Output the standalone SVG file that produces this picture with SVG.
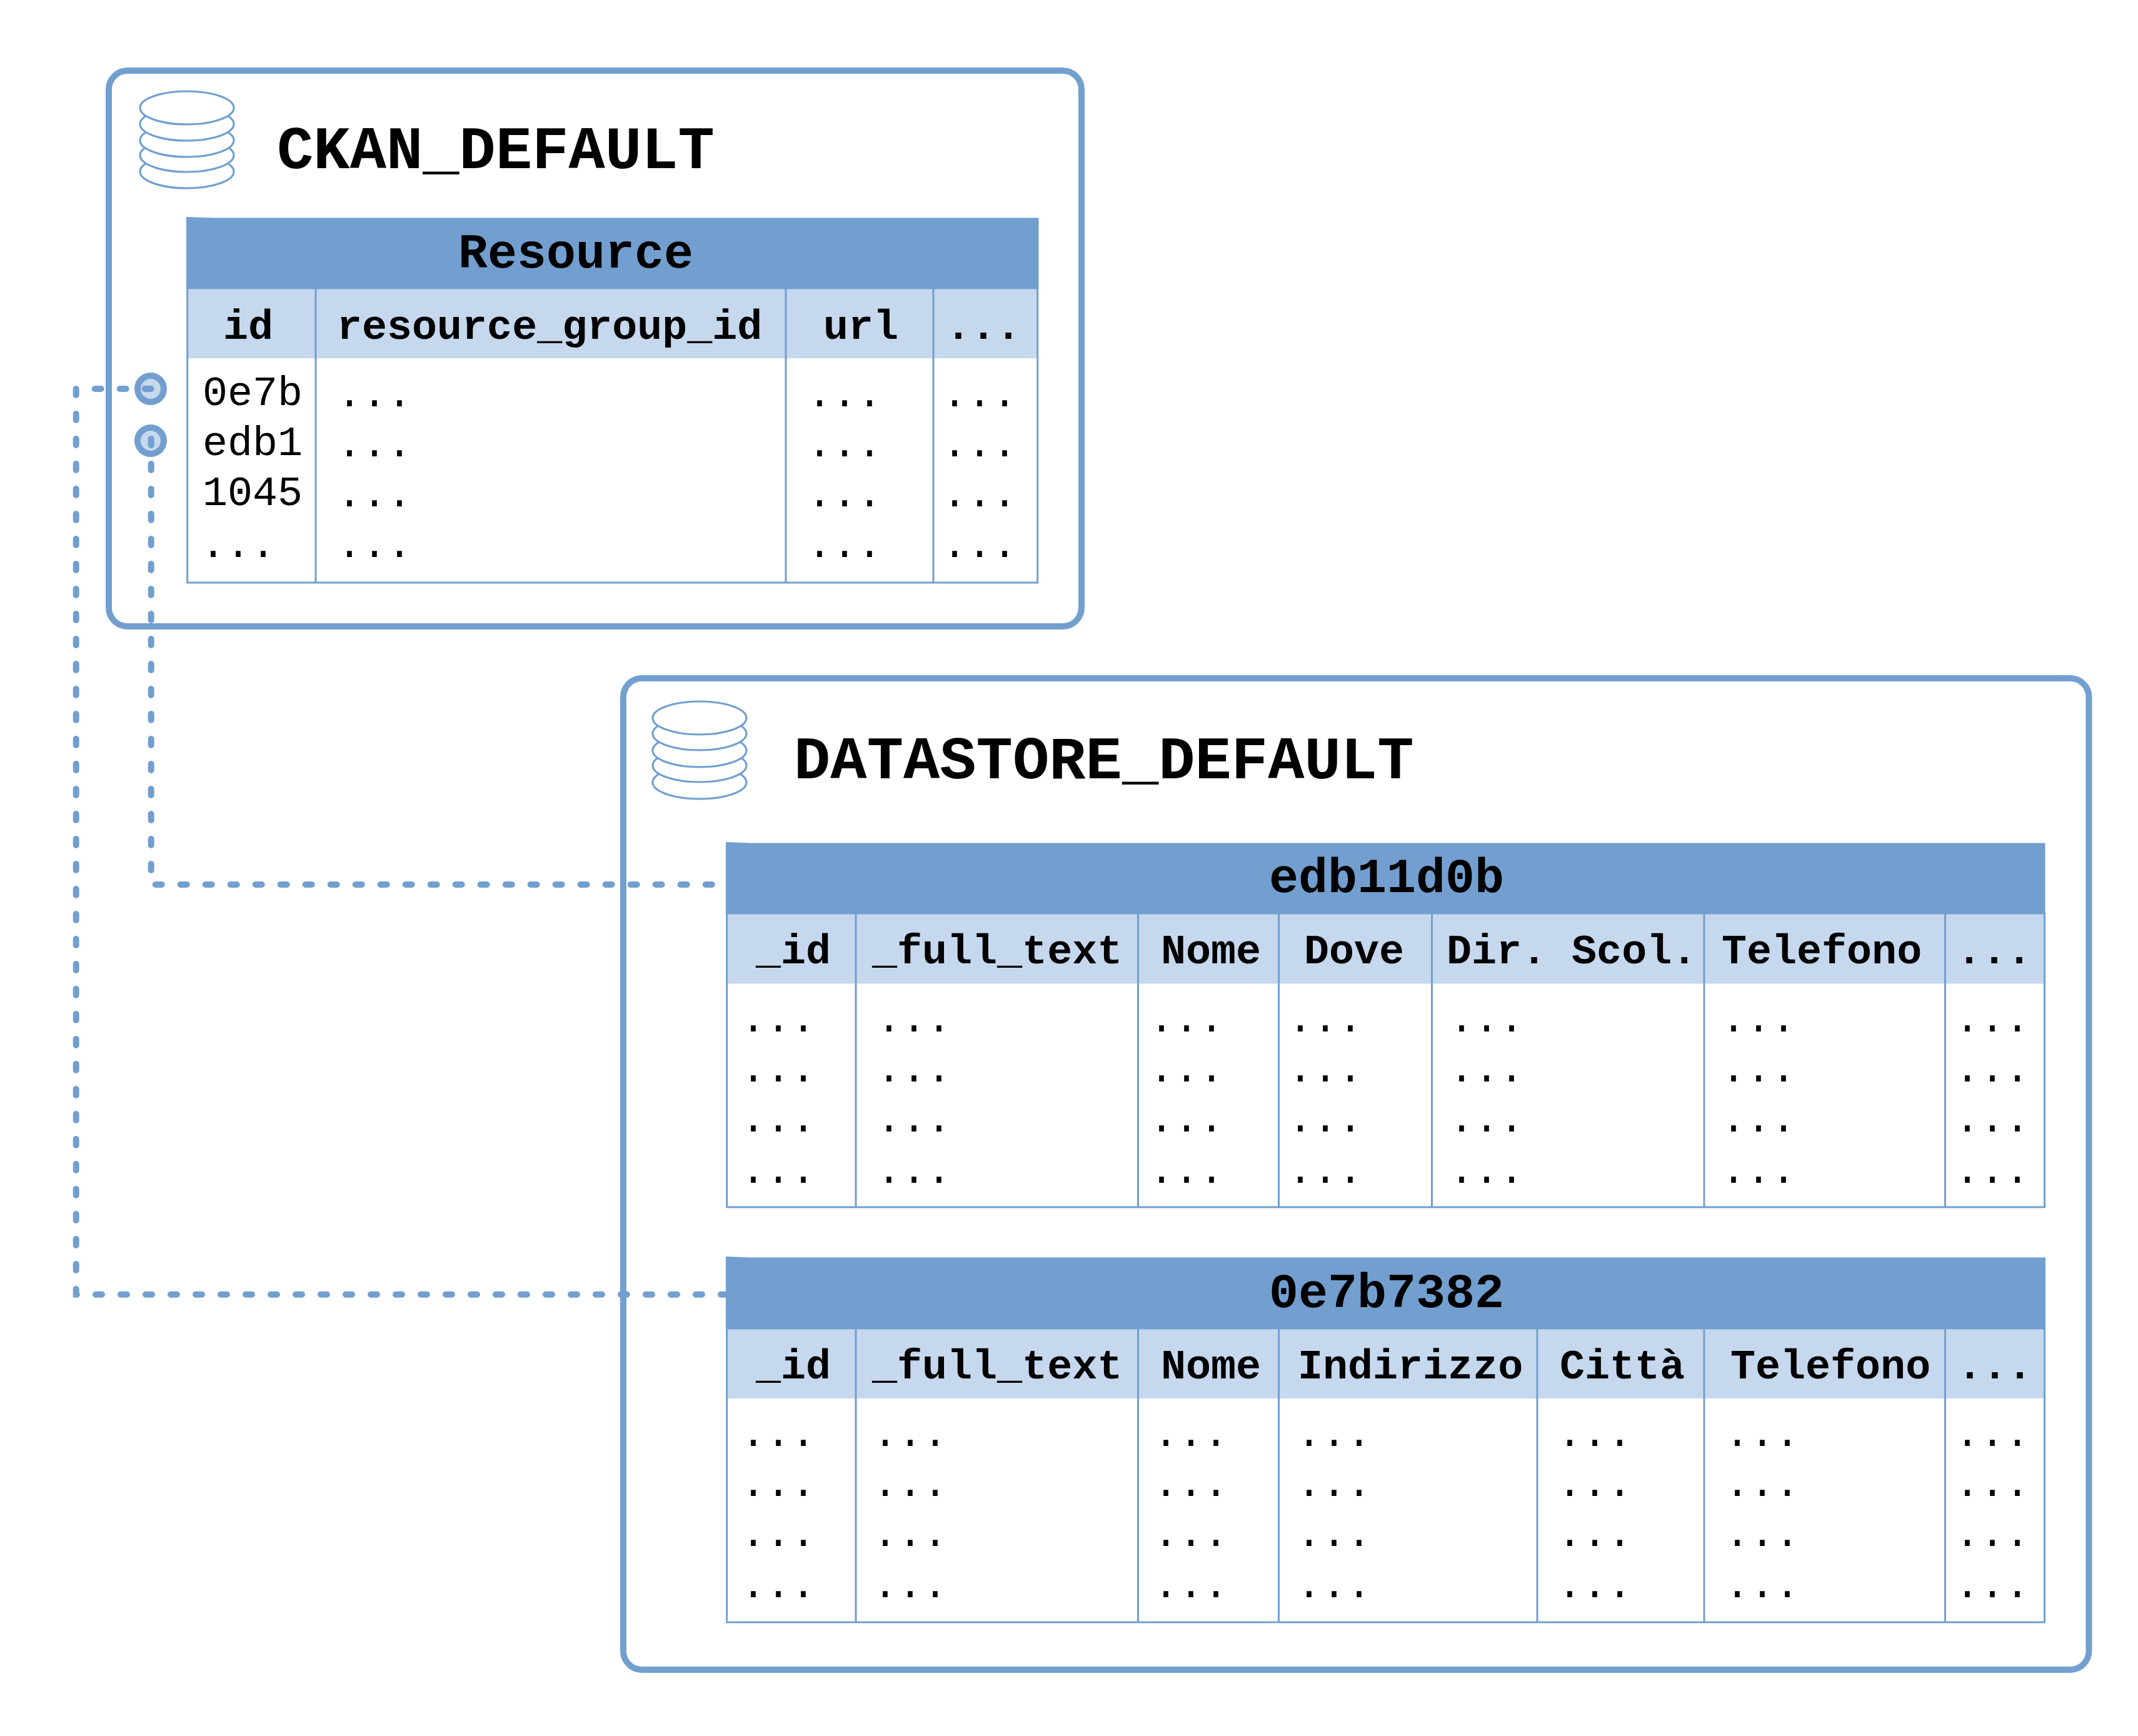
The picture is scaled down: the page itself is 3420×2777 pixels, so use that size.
<svg xmlns="http://www.w3.org/2000/svg" width="3420" height="2777" viewBox="0 0 3420 2777">
<style>
text{font-family:"Liberation Mono","Courier New",monospace;fill:#000;transform:translateY(2px)}
.title{font-size:97.2px;font-weight:700}
.head{font-size:78.3px;font-weight:700}
.sub{font-size:66.7px;font-weight:700}
.row{font-size:66.7px}
.box{fill:#fff;stroke:#729fcf;stroke-width:10}
.db{fill:#fff;stroke:#729fcf;stroke-width:3.2}
.hd{fill:#729fcf}
.sh{fill:#c6d8ed}
.grid{fill:none;stroke:#729fcf;stroke-width:3}
.key{fill:#c6d8ed;stroke:#729fcf;stroke-width:10}
.link{fill:none;stroke:#729fcf;stroke-width:10;stroke-linecap:round;stroke-dasharray:10 30}
</style>
<g id="ckan_default">
<rect class="box" x="174" y="113" width="1556" height="889" rx="30" ry="30"/>
<g id="ckan_icon">
<ellipse class="db" cx="299" cy="274.500" rx="75" ry="26.500"/>
<ellipse class="db" cx="299" cy="248.500" rx="75" ry="26.500"/>
<ellipse class="db" cx="299" cy="224.500" rx="75" ry="26.500"/>
<ellipse class="db" cx="299" cy="198.500" rx="75" ry="26.500"/>
<ellipse class="db" cx="299" cy="172.500" rx="75" ry="26.500"/>
</g>
<text class="title" x="443" y="267">CKAN_DEFAULT</text>
</g>
<g id="table_resource">
<path class="hd" d="M298 347L340 348.5H1661.5V462H298Z"/>
<rect class="sh" x="300" y="462" width="1360" height="111"/>
<rect class="grid" x="299.7" y="461" width="1360" height="471"/>
<path class="grid" d="M505 461V932M1257 461V932M1493 461V932"/>
<text class="head" x="733" y="426">Resource</text>
<text class="sub" x="357" y="540">id</text>
<text class="sub" x="539" y="540">resource_group_id</text>
<text class="sub" x="1317" y="540">url</text>
<text class="sub" x="1513" y="540">...</text>
<text class="row"><tspan x="324" y="646">0e7b</tspan><tspan x="324" y="726">edb1</tspan><tspan x="324" y="806">1045</tspan><tspan x="321" y="889">...</tspan></text>
<text class="row"><tspan x="539" y="648">...</tspan><tspan x="539" y="728">...</tspan><tspan x="539" y="808">...</tspan><tspan x="539" y="889">...</tspan></text>
<text class="row"><tspan x="1291" y="648">...</tspan><tspan x="1291" y="728">...</tspan><tspan x="1291" y="808">...</tspan><tspan x="1291" y="889">...</tspan></text>
<text class="row"><tspan x="1507" y="648">...</tspan><tspan x="1507" y="728">...</tspan><tspan x="1507" y="808">...</tspan><tspan x="1507" y="889">...</tspan></text>
</g>
<g id="key_0e7b"><circle class="key" cx="241" cy="622" r="21"/></g>
<g id="key_edb1"><circle class="key" cx="241" cy="705" r="21"/></g>
<g id="datastore_default">
<rect class="box" x="997" y="1085" width="2344.5" height="1586" rx="30" ry="30"/>
<g id="datastore_icon">
<ellipse class="db" cx="1119" cy="1251.500" rx="75" ry="26.500"/>
<ellipse class="db" cx="1119" cy="1224.500" rx="75" ry="26.500"/>
<ellipse class="db" cx="1119" cy="1200.500" rx="75" ry="26.500"/>
<ellipse class="db" cx="1119" cy="1173.500" rx="75" ry="26.500"/>
<ellipse class="db" cx="1119" cy="1148.500" rx="75" ry="26.500"/>
</g>
<text class="title" x="1270" y="1243">DATASTORE_DEFAULT</text>
</g>
<g id="table_edb11d0b">
<path class="hd" d="M1161 1347L1200 1348.5H3271.5V1461H1161Z"/>
<rect class="sh" x="1163" y="1461" width="2107" height="112.500"/>
<rect class="grid" x="1162.700" y="1461" width="2107.800" height="470"/>
<path class="grid" d="M1369 1461V1931M1820.500 1461V1931M2045.500 1461V1931M2290.500 1461V1931M2726 1461V1931M3111.500 1461V1931"/>
<text class="head" x="2030" y="1425">edb11d0b</text>
<text class="sub" x="1209" y="1539">_id</text>
<text class="sub" x="1395" y="1539">_full_text</text>
<text class="sub" x="1857" y="1539">Nome</text>
<text class="sub" x="2086" y="1539">Dove</text>
<text class="sub" x="2314" y="1539">Dir. Scol.</text>
<text class="sub" x="2754" y="1539">Telefono</text>
<text class="sub" x="3130" y="1539">...</text>
<text class="row"><tspan x="1185" y="1648">...</tspan><tspan x="1185" y="1728">...</tspan><tspan x="1185" y="1808">...</tspan><tspan x="1185" y="1890">...</tspan></text>
<text class="row"><tspan x="1402" y="1648">...</tspan><tspan x="1402" y="1728">...</tspan><tspan x="1402" y="1808">...</tspan><tspan x="1402" y="1890">...</tspan></text>
<text class="row"><tspan x="1838" y="1648">...</tspan><tspan x="1838" y="1728">...</tspan><tspan x="1838" y="1808">...</tspan><tspan x="1838" y="1890">...</tspan></text>
<text class="row"><tspan x="2060" y="1648">...</tspan><tspan x="2060" y="1728">...</tspan><tspan x="2060" y="1808">...</tspan><tspan x="2060" y="1890">...</tspan></text>
<text class="row"><tspan x="2318" y="1648">...</tspan><tspan x="2318" y="1728">...</tspan><tspan x="2318" y="1808">...</tspan><tspan x="2318" y="1890">...</tspan></text>
<text class="row"><tspan x="2753" y="1648">...</tspan><tspan x="2753" y="1728">...</tspan><tspan x="2753" y="1808">...</tspan><tspan x="2753" y="1890">...</tspan></text>
<text class="row"><tspan x="3127" y="1648">...</tspan><tspan x="3127" y="1728">...</tspan><tspan x="3127" y="1808">...</tspan><tspan x="3127" y="1890">...</tspan></text>
</g>
<g id="table_0e7b7382">
<path class="hd" d="M1161 2010L1200 2011.5H3272V2125H1161Z"/>
<rect class="sh" x="1163" y="2125" width="2107" height="112"/>
<rect class="grid" x="1162.700" y="2125" width="2107.800" height="470"/>
<path class="grid" d="M1369 2125V2595M1820.500 2125V2595M2045.500 2125V2595M2459 2125V2595M2726 2125V2595M3111.500 2125V2595"/>
<text class="head" x="2030" y="2089">0e7b7382</text>
<text class="sub" x="1209" y="2203">_id</text>
<text class="sub" x="1395" y="2203">_full_text</text>
<text class="sub" x="1857" y="2203">Nome</text>
<text class="sub" x="2076" y="2203">Indirizzo</text>
<text class="sub" x="2495" y="2203">Città</text>
<text class="sub" x="2768" y="2203">Telefono</text>
<text class="sub" x="3131" y="2203">...</text>
<text class="row"><tspan x="1185" y="2311">...</tspan><tspan x="1185" y="2391">...</tspan><tspan x="1185" y="2471">...</tspan><tspan x="1185" y="2553">...</tspan></text>
<text class="row"><tspan x="1396" y="2311">...</tspan><tspan x="1396" y="2391">...</tspan><tspan x="1396" y="2471">...</tspan><tspan x="1396" y="2553">...</tspan></text>
<text class="row"><tspan x="1845" y="2311">...</tspan><tspan x="1845" y="2391">...</tspan><tspan x="1845" y="2471">...</tspan><tspan x="1845" y="2553">...</tspan></text>
<text class="row"><tspan x="2074" y="2311">...</tspan><tspan x="2074" y="2391">...</tspan><tspan x="2074" y="2471">...</tspan><tspan x="2074" y="2553">...</tspan></text>
<text class="row"><tspan x="2491" y="2311">...</tspan><tspan x="2491" y="2391">...</tspan><tspan x="2491" y="2471">...</tspan><tspan x="2491" y="2553">...</tspan></text>
<text class="row"><tspan x="2759" y="2311">...</tspan><tspan x="2759" y="2391">...</tspan><tspan x="2759" y="2471">...</tspan><tspan x="2759" y="2553">...</tspan></text>
<text class="row"><tspan x="3127" y="2311">...</tspan><tspan x="3127" y="2391">...</tspan><tspan x="3127" y="2471">...</tspan><tspan x="3127" y="2553">...</tspan></text>
</g>
<g id="connectors">
<path class="link" d="M241.700 622H121.700V2070.700H1160"/>
<path class="link" d="M241.700 702V1415H1139"/>
</g>
</svg>
